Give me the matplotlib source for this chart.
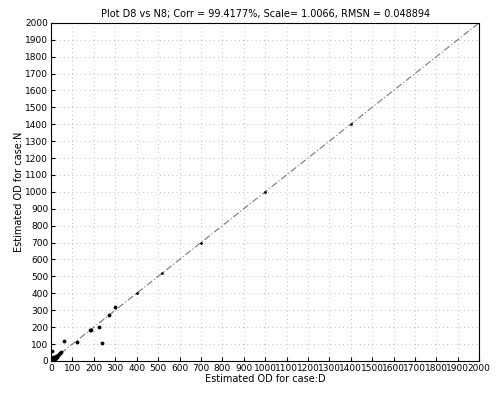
import numpy as np
import matplotlib.pyplot as plt

# estimated OD pairs (case D, case N)
od_d = [2, 4, 6, 8, 10, 12, 15, 18, 20, 22, 25, 28, 30, 5, 10, 15, 3, 8, 35, 40, 45,
        60, 120, 180, 185, 225, 240, 270, 300]
od_n = [3, 8, 5, 12, 15, 9, 18, 14, 22, 17, 28, 25, 33, 20, 25, 10, 60, 2, 40, 45, 50,
        120, 110, 180, 185, 200, 105, 270, 320]
# faint points lying on the diagonal
line_pts = [400, 520, 700, 1000, 1400]
ref = [0, 2000]
ticks = list(range(0, 2001, 100))

fig = plt.figure(figsize=(4.96, 3.94), dpi=100)
ax = fig.add_axes([0.103, 0.084, 0.863, 0.858])
ax.plot(ref, ref, color='#777777', ls=(0, (6, 2, 1, 2)), lw=0.8)
ax.plot(od_d, od_n, 'k.', ms=3.5)
ax.plot(line_pts, line_pts, 'k.', ms=2)
ax.set_xlim(0, 2000)
ax.set_ylim(0, 2000)
ax.set_xticks(ticks)
ax.set_yticks(ticks)
ax.tick_params(direction='in', labelsize=6.5, length=3, pad=2)
ax.grid(True, ls=(0, (1, 4)), color='#aaaaaa', lw=0.6)
ax.set_xlabel('Estimated OD for case:D', fontsize=7, labelpad=1)
ax.set_ylabel('Estimated OD for case:N', fontsize=7, labelpad=1)
ax.set_title('Plot D8 vs N8; Corr = 99.4177%, Scale= 1.0066, RMSN = 0.048894', fontsize=7, pad=4)
fig.savefig('out.png', dpi=100)
